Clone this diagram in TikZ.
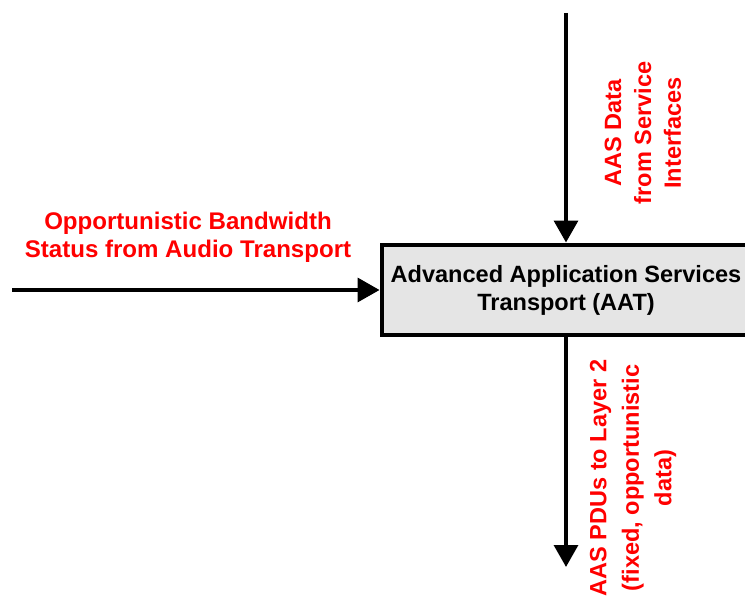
\documentclass[tikz,border=0pt]{standalone}
\usepackage{fontspec}
\setmainfont{Liberation Sans}
\usetikzlibrary{arrows.meta}

\tikzset{
	flow/.style={line width=2.3pt, -{Triangle[length=12.5pt, width=13.5pt]}},
	redlabel/.style={text=red, align=center, font=\fontsize{13.7pt}{16pt}\selectfont\bfseries},
}

\begin{document}
\begin{tikzpicture}[x=0.02cm, y=-0.02cm]
		\useasboundingbox (0, 0) rectangle (745, 597);

		% box
		\node[draw, line width=2.8pt, fill=gray!20, minimum width=7.36cm, minimum height=1.8cm,
			align=center, font=\fontsize{13.4pt}{16pt}\selectfont\bfseries] (aat) at (566, 290)
			{Advanced Application Services\\Transport (AAT)};

		\coordinate (In) at (12, 290);
		\coordinate (Top) at (566, 13);
		\coordinate (Out) at (566, 567);

		\draw[flow] (In) -- (aat.west);
		\draw[flow] (Top) -- (aat.north);
		\draw[flow] (aat.south) -- (Out);

		% labels
		\node[redlabel] (bw) at (188, 237) {Opportunistic Bandwidth\\Status from Audio Transport};
		\node[redlabel, rotate=90, font=\fontsize{13.4pt}{17pt}\selectfont\bfseries] (svc) at (643, 133)
			{AAS Data\\from Service\\Interfaces};
		\node[redlabel, rotate=90, font=\fontsize{13.4pt}{18.5pt}\selectfont\bfseries] (pdu) at (633, 478)
			{AAS PDUs to Layer 2\\(fixed, opportunistic\\data)};
	\end{tikzpicture}
\end{document}
